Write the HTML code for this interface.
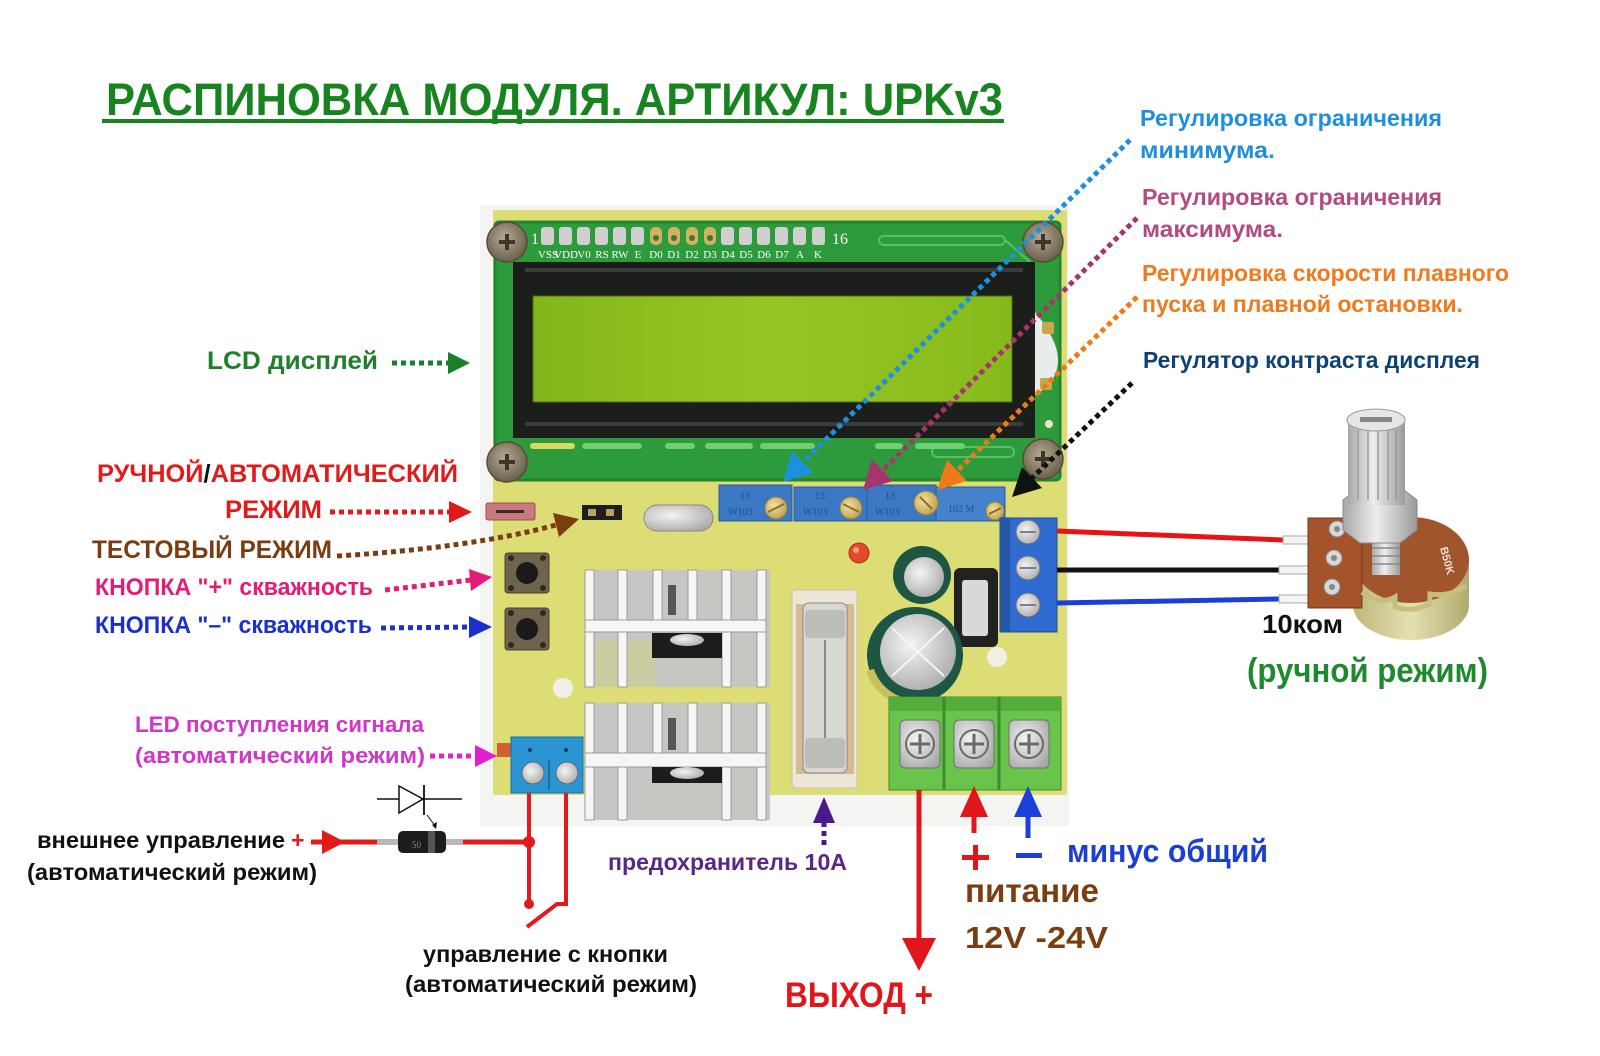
<!DOCTYPE html>
<html><head><meta charset="utf-8">
<style>
html,body{margin:0;padding:0;background:#fff;width:1600px;height:1056px;overflow:hidden}
svg{display:block}
text{font-family:"Liberation Sans","DejaVu Sans",sans-serif;font-weight:bold}
.pl{font-family:"Liberation Serif",serif;font-weight:normal}
</style></head><body>
<svg width="1600" height="1056" viewBox="0 0 1600 1056" xmlns="http://www.w3.org/2000/svg">
<defs>
<radialGradient id="scw" cx=".45" cy=".4" r=".6"><stop offset="0" stop-color="#b5aa92"/><stop offset="1" stop-color="#6a604c"/></radialGradient>
<linearGradient id="scr" x1="0" y1="0" x2="1" y2="0"><stop offset="0" stop-color="#82b61a"/><stop offset=".5" stop-color="#96c626"/><stop offset="1" stop-color="#86ba1c"/></linearGradient>
<radialGradient id="slv" cx=".4" cy=".4" r=".7"><stop offset="0" stop-color="#f4f4f4"/><stop offset="1" stop-color="#a8a8a8"/></radialGradient>
<radialGradient id="brs" cx=".4" cy=".4" r=".7"><stop offset="0" stop-color="#f2e2a0"/><stop offset="1" stop-color="#b89a48"/></radialGradient>
<linearGradient id="shaft" x1="0" y1="0" x2="1" y2="0"><stop offset="0" stop-color="#a8a8a8"/><stop offset=".45" stop-color="#eeeeee"/><stop offset="1" stop-color="#9a9a9a"/></linearGradient>
<linearGradient id="cyl" x1="0" y1="0" x2="1" y2="0"><stop offset="0" stop-color="#bdb77a"/><stop offset=".5" stop-color="#e4e0b0"/><stop offset="1" stop-color="#b0aa70"/></linearGradient>
</defs>
<rect width="1600" height="1056" fill="#fff"/>

<!-- TITLE -->
<text x="106" y="115" font-size="45" fill="#17841f" textLength="897" lengthAdjust="spacingAndGlyphs">РАСПИНОВКА МОДУЛЯ. АРТИКУЛ: UPKv3</text>
<rect x="102" y="119" width="902" height="4" fill="#17841f"/>

<!-- RIGHT TEXTS -->
<g font-size="23">
<text x="1140" y="126" fill="#1f8fdc" textLength="302" lengthAdjust="spacingAndGlyphs">Регулировка ограничения</text>
<text x="1140" y="158" fill="#1f8fdc" textLength="135" lengthAdjust="spacingAndGlyphs">минимума.</text>
<text x="1142" y="205" fill="#b24a84" textLength="300" lengthAdjust="spacingAndGlyphs">Регулировка ограничения</text>
<text x="1142" y="237" fill="#b24a84" textLength="141" lengthAdjust="spacingAndGlyphs">максимума.</text>
<text x="1142" y="281" fill="#ef7a1f" textLength="367" lengthAdjust="spacingAndGlyphs">Регулировка скорости плавного</text>
<text x="1142" y="312" fill="#ef7a1f" textLength="321" lengthAdjust="spacingAndGlyphs">пуска и плавной остановки.</text>
<text x="1143" y="368" fill="#0f4274" textLength="337" lengthAdjust="spacingAndGlyphs">Регулятор контраста дисплея</text>
</g>

<!-- LEFT TEXTS -->
<text x="207" y="369" font-size="25" fill="#1f7f2d" textLength="171" lengthAdjust="spacingAndGlyphs">LCD дисплей</text>
<text x="97" y="482" font-size="25" textLength="361" lengthAdjust="spacingAndGlyphs"><tspan fill="#e01b1b">РУЧНОЙ</tspan><tspan fill="#111">/</tspan><tspan fill="#e01b1b">АВТОМАТИЧЕСКИЙ</tspan></text>
<text x="225" y="518" font-size="25" fill="#e01b1b" textLength="97" lengthAdjust="spacingAndGlyphs">РЕЖИМ</text>
<text x="92" y="558" font-size="25" fill="#7b3c12" textLength="240" lengthAdjust="spacingAndGlyphs">ТЕСТОВЫЙ РЕЖИМ</text>
<text x="95" y="595" font-size="24" fill="#e31c79" textLength="278" lengthAdjust="spacingAndGlyphs">КНОПКА "+" скважность</text>
<text x="95" y="633" font-size="24" fill="#1b2fcb" textLength="277" lengthAdjust="spacingAndGlyphs">КНОПКА "–" скважность</text>
<text x="135" y="732" font-size="22" fill="#d236c9" textLength="289" lengthAdjust="spacingAndGlyphs">LED поступления сигнала</text>
<text x="135" y="763" font-size="22" fill="#d236c9" textLength="290" lengthAdjust="spacingAndGlyphs">(автоматический режим)</text>
<text x="37" y="848" font-size="23" fill="#111" textLength="248" lengthAdjust="spacingAndGlyphs">внешнее управление</text>
<text x="291" y="848" font-size="23" fill="#e01b1b">+</text>
<text x="27" y="880" font-size="23" fill="#111" textLength="290" lengthAdjust="spacingAndGlyphs">(автоматический режим)</text>
<text x="423" y="962" font-size="23" fill="#111" textLength="245" lengthAdjust="spacingAndGlyphs">управление с кнопки</text>
<text x="405" y="992" font-size="23" fill="#111" textLength="292" lengthAdjust="spacingAndGlyphs">(автоматический режим)</text>
<text x="608" y="870" font-size="23" fill="#5a2788" textLength="239" lengthAdjust="spacingAndGlyphs">предохранитель 10А</text>
<text x="785" y="1007" font-size="35" fill="#e0161b" textLength="148" lengthAdjust="spacingAndGlyphs">ВЫХОД +</text>
<text x="1067" y="862" font-size="32" fill="#1b3fd3" textLength="201" lengthAdjust="spacingAndGlyphs">минус общий</text>
<text x="965" y="902" font-size="33" fill="#7a3e10" textLength="134" lengthAdjust="spacingAndGlyphs">питание</text>
<text x="965" y="948" font-size="31" fill="#7a3e10" textLength="143" lengthAdjust="spacingAndGlyphs">12V -24V</text>

<!-- PHOTO BACKGROUND -->
<rect x="480" y="205" width="589" height="621" fill="#f4f4f2"/>
<!-- yellow PCB -->
<rect x="493" y="210" width="574" height="585" fill="#dcdd74"/>
<!-- holes -->
<circle cx="997" cy="657" r="10" fill="#f0f0e6"/>
<circle cx="563" cy="688" r="10" fill="#f0f0e6"/>

<!-- LCD PCB -->
<rect x="495" y="222" width="565" height="258" rx="4" fill="#2d9b3b"/>
<rect x="495" y="222" width="565" height="258" rx="4" fill="none" stroke="#238430" stroke-width="3"/>
<rect x="879" y="236" width="126" height="9" rx="4.5" fill="none" stroke="#52c262" stroke-width="2"/>
<path d="M1005,240 L1030,262" stroke="#52c262" stroke-width="2"/>
<rect x="932" y="447" width="82" height="10" rx="5" fill="none" stroke="#52c262" stroke-width="2"/>
<g fill="#6fcf72">
<rect x="530" y="443" width="45" height="6" rx="3" fill="#d8d860"/>
<rect x="582" y="443" width="60" height="6" rx="3"/>
<rect x="665" y="443" width="30" height="6" rx="3"/>
<rect x="705" y="443" width="48" height="6" rx="3"/>
<rect x="760" y="443" width="55" height="6" rx="3"/>
<rect x="875" y="443" width="28" height="6" rx="3"/>
<rect x="915" y="443" width="50" height="6" rx="3"/>
</g>
<!-- right side cutout pads -->
<path d="M1035,312 Q1058,340 1058,360 Q1058,382 1035,395 Z" fill="#e8ecea"/>
<rect x="1042" y="322" width="12" height="12" rx="2" fill="#c8a848"/>
<rect x="1040" y="378" width="12" height="12" rx="2" fill="#c8a848"/>
<circle cx="1049" cy="424" r="4" fill="#e8e8c8"/>

<!-- bezel & screen -->
<rect x="513" y="262" width="522" height="176" fill="#1b1e1b"/>
<rect x="525" y="268" width="498" height="4" fill="#3a3d3a"/>
<rect x="525" y="422" width="498" height="4" fill="#3a3d3a"/>
<rect x="533" y="296" width="479" height="106" fill="url(#scr)" stroke="#4a6a12" stroke-width="1"/>

<!-- pin header -->
<g>
<rect x="541" y="227" width="13" height="18" rx="3" fill="#cfcfcf"/>
<rect x="559" y="227" width="13" height="18" rx="3" fill="#cfcfcf"/>
<rect x="577" y="227" width="13" height="18" rx="3" fill="#cfcfcf"/>
<rect x="595" y="227" width="13" height="18" rx="3" fill="#cfcfcf"/>
<rect x="613" y="227" width="13" height="18" rx="3" fill="#cfcfcf"/>
<rect x="631" y="227" width="13" height="18" rx="3" fill="#cfcfcf"/>
<rect x="650" y="227" width="12" height="18" rx="5" fill="#d4b060"/>
<rect x="668" y="227" width="12" height="18" rx="5" fill="#d4b060"/>
<rect x="686" y="227" width="12" height="18" rx="5" fill="#d4b060"/>
<rect x="704" y="227" width="12" height="18" rx="5" fill="#d4b060"/>
<rect x="721" y="227" width="13" height="18" rx="3" fill="#cfcfcf"/>
<rect x="739" y="227" width="13" height="18" rx="3" fill="#cfcfcf"/>
<rect x="757" y="227" width="13" height="18" rx="3" fill="#cfcfcf"/>
<rect x="775" y="227" width="13" height="18" rx="3" fill="#cfcfcf"/>
<rect x="793" y="227" width="13" height="18" rx="3" fill="#cfcfcf"/>
<rect x="812" y="227" width="13" height="18" rx="3" fill="#cfcfcf"/>
<g fill="#3a7a30"><circle cx="656" cy="238" r="3"/><circle cx="674" cy="238" r="3"/><circle cx="692" cy="238" r="3"/><circle cx="710" cy="238" r="3"/></g>
</g>
<g class="pl" fill="#fff" font-size="11" text-anchor="middle">
<text class="pl" x="535" y="244" font-size="16">1</text>
<text class="pl" x="832" y="244" font-size="16" text-anchor="start">16</text>
<text class="pl" x="548" y="258">VSS</text><text class="pl" x="566" y="258">VDD</text><text class="pl" x="584" y="258">V0</text>
<text class="pl" x="602" y="258">RS</text><text class="pl" x="620" y="258">RW</text><text class="pl" x="638" y="258">E</text>
<text class="pl" x="656" y="258">D0</text><text class="pl" x="674" y="258">D1</text><text class="pl" x="692" y="258">D2</text>
<text class="pl" x="710" y="258">D3</text><text class="pl" x="728" y="258">D4</text><text class="pl" x="746" y="258">D5</text>
<text class="pl" x="764" y="258">D6</text><text class="pl" x="782" y="258">D7</text><text class="pl" x="800" y="258">A</text>
<text class="pl" x="818" y="258">K</text>
</g>

<!-- screws -->
<g>
<circle cx="507" cy="242" r="20" fill="url(#scw)" stroke="#564c3a" stroke-width="1.5"/>
<path d="M499,242 H515 M507,234 V250" stroke="#3e3628" stroke-width="4"/>
<circle cx="1043" cy="242" r="20" fill="url(#scw)" stroke="#564c3a" stroke-width="1.5"/>
<path d="M1035,242 H1051 M1043,234 V250" stroke="#3e3628" stroke-width="4"/>
<circle cx="507" cy="462" r="20" fill="url(#scw)" stroke="#564c3a" stroke-width="1.5"/>
<path d="M499,462 H515 M507,454 V470" stroke="#3e3628" stroke-width="4"/>
<circle cx="1043" cy="459" r="20" fill="url(#scw)" stroke="#564c3a" stroke-width="1.5"/>
<path d="M1035,459 H1051 M1043,451 V467" stroke="#3e3628" stroke-width="4"/>
</g>

<!-- trimmers -->
<g>
<rect x="719" y="485" width="73" height="36" fill="#3a78c6" stroke="#285a9c"/>
<rect x="794" y="487" width="73" height="34" fill="#3a78c6" stroke="#285a9c"/>
<rect x="867" y="485" width="69" height="36" fill="#3a78c6" stroke="#285a9c"/>
<rect x="936" y="487" width="69" height="34" fill="#4482cc" stroke="#285a9c"/>
<g fill="#1f4f90" font-size="10" class="pl"><text class="pl" x="740" y="499">13</text><text class="pl" x="815" y="499">13</text><text class="pl" x="885" y="499">13</text><text class="pl" x="728" y="515">W103</text><text class="pl" x="803" y="515">W103</text><text class="pl" x="875" y="515">W103</text><text class="pl" x="948" y="512">103 M</text></g>
<circle cx="776" cy="508" r="11" fill="url(#brs)" stroke="#9a7e38"/>
<circle cx="851" cy="508" r="11" fill="url(#brs)" stroke="#9a7e38"/>
<circle cx="926" cy="503" r="12" fill="url(#brs)" stroke="#9a7e38"/>
<circle cx="995" cy="511" r="9" fill="url(#brs)" stroke="#9a7e38"/>
<path d="M768,512 L784,504 M843,504 L859,512 M920,497 L932,509 M989,514 L1001,508" stroke="#8a6e30" stroke-width="2"/>
</g>

<!-- jumpers, crystal -->
<rect x="486" y="503" width="49" height="17" rx="2" fill="#c87a7c" stroke="#9a5050"/>
<rect x="496" y="510" width="28" height="3" fill="#3a2a2a"/>
<rect x="582" y="505" width="40" height="15" fill="#1e1e1e"/>
<rect x="588" y="509" width="8" height="7" fill="#bba060"/><rect x="606" y="509" width="8" height="7" fill="#bba060"/>
<rect x="644" y="505" width="69" height="26" rx="13" fill="url(#slv)" stroke="#8a8a8a"/>

<!-- buttons -->
<g>
<rect x="505" y="553" width="44" height="40" rx="3" fill="#6e634c" stroke="#4a4232"/>
<circle cx="527" cy="573" r="11" fill="#1a1a1a"/>
<g fill="#2a2a2a"><circle cx="511" cy="558" r="3"/><circle cx="543" cy="558" r="3"/><circle cx="511" cy="588" r="3"/><circle cx="543" cy="588" r="3"/></g>
<rect x="505" y="608" width="44" height="42" rx="3" fill="#6e634c" stroke="#4a4232"/>
<circle cx="527" cy="629" r="11" fill="#1a1a1a"/>
<g fill="#2a2a2a"><circle cx="511" cy="613" r="3"/><circle cx="543" cy="613" r="3"/><circle cx="511" cy="645" r="3"/><circle cx="543" cy="645" r="3"/></g>
</g>

<!-- LED -->
<circle cx="859" cy="553" r="10" fill="#e04a2a" stroke="#a83018"/>
<circle cx="856" cy="550" r="3" fill="#f8a080"/>

<!-- small cap -->
<circle cx="922" cy="575" r="29" fill="#1d5744"/>
<circle cx="924" cy="577" r="20" fill="url(#slv)"/>
<!-- regulator -->
<rect x="954" y="568" width="44" height="79" rx="6" fill="#222"/>
<rect x="962" y="580" width="26" height="56" rx="3" fill="#d8d8d8"/>
<!-- big cap -->
<circle cx="915" cy="655" r="48" fill="#1d5744"/>
<path d="M870,670 A48,48 0 0 0 905,702" stroke="#c8c060" stroke-width="8" fill="none"/>
<circle cx="918" cy="652" r="38" fill="url(#slv)"/>
<path d="M892,628 L944,676 M944,628 L892,676" stroke="#f6f6f6" stroke-width="2"/>

<!-- blue 3-terminal -->
<rect x="1000" y="518" width="57" height="114" fill="#2f6bd0" stroke="#1e4a9a"/>
<rect x="1000" y="518" width="10" height="114" fill="#2656a8"/>
<g fill="url(#slv)" stroke="#6a7080"><circle cx="1028" cy="532" r="12"/><circle cx="1028" cy="568" r="12"/><circle cx="1028" cy="605" r="12"/></g>
<path d="M1020,532 H1036 M1020,568 H1036 M1020,605 H1036" stroke="#7a8090" stroke-width="2"/>

<!-- heatsinks -->
<g>
<rect x="585" y="570" width="185" height="117" fill="#c6c6c2"/>
<rect x="595" y="640" width="60" height="47" fill="#cfd08a" opacity=".6"/>
<g fill="#f6f6f6" stroke="#9a9a9a" stroke-width="1">
<rect x="585" y="570" width="9" height="117"/>
<rect x="618" y="570" width="9" height="117"/>
<rect x="653" y="570" width="9" height="52"/>
<rect x="688" y="570" width="9" height="52"/>
<rect x="722" y="570" width="9" height="117"/>
<rect x="757" y="570" width="9" height="117"/>
<rect x="585" y="620" width="181" height="12"/>
</g>
<rect x="668" y="585" width="8" height="30" fill="#555"/>
<rect x="652" y="633" width="70" height="25" fill="#1c1c1c"/>
<ellipse cx="687" cy="640" rx="17" ry="6" fill="url(#slv)"/>

<rect x="585" y="703" width="185" height="117" fill="#c6c6c2"/>
<g fill="#f6f6f6" stroke="#9a9a9a" stroke-width="1">
<rect x="585" y="703" width="9" height="117"/>
<rect x="618" y="703" width="9" height="117"/>
<rect x="653" y="703" width="9" height="52"/>
<rect x="688" y="703" width="9" height="52"/>
<rect x="722" y="703" width="9" height="117"/>
<rect x="757" y="703" width="9" height="117"/>
<rect x="585" y="753" width="181" height="14"/>
</g>
<rect x="668" y="718" width="8" height="32" fill="#555"/>
<rect x="652" y="767" width="70" height="16" fill="#1c1c1c"/>
<ellipse cx="687" cy="773" rx="17" ry="6" fill="url(#slv)"/>
</g>

<!-- fuse holder -->
<rect x="792" y="590" width="65" height="198" rx="3" fill="#ebe6d8" stroke="#c8c0a8"/>
<rect x="796" y="604" width="58" height="170" fill="#cfb080" opacity=".8"/>
<rect x="803" y="603" width="44" height="170" rx="6" fill="#d8d8d2" stroke="#8a8a86"/>
<rect x="805" y="610" width="40" height="28" rx="4" fill="#bcbcb8"/>
<rect x="805" y="738" width="40" height="30" rx="4" fill="#bcbcb8"/>
<path d="M825,640 V738" stroke="#8a8a86" stroke-width="2"/>

<!-- green terminals -->
<g>
<rect x="889" y="697" width="172" height="93" fill="#69c44b" stroke="#3e8a2c"/>
<rect x="889" y="697" width="172" height="14" fill="#56ac3a"/>
<path d="M944,697 V790 M999,697 V790" stroke="#3e8a2c" stroke-width="3"/>
<rect x="900" y="720" width="40" height="48" rx="5" fill="url(#slv)" stroke="#707070"/>
<rect x="954" y="720" width="40" height="48" rx="5" fill="url(#slv)" stroke="#707070"/>
<rect x="1009" y="720" width="40" height="48" rx="5" fill="url(#slv)" stroke="#707070"/>
<g fill="none" stroke="#6a6a6a" stroke-width="2"><circle cx="920" cy="744" r="14"/><circle cx="974" cy="744" r="14"/><circle cx="1029" cy="744" r="14"/></g>
<path d="M910,744 H930 M920,734 V754 M964,744 H984 M974,734 V754 M1019,744 H1039 M1029,734 V754" stroke="#6a6a6a" stroke-width="3"/>
</g>

<!-- bottom-left blue terminal -->
<rect x="497" y="743" width="14" height="14" fill="#d06030"/>
<rect x="511" y="737" width="72" height="56" fill="#2b95d3" stroke="#1b6ea0"/>
<circle cx="530" cy="750" r="2" fill="#0a3a5a"/><circle cx="566" cy="750" r="2" fill="#0a3a5a"/>
<path d="M549,760 V790" stroke="#1b6ea0" stroke-width="2"/>
<circle cx="533" cy="773" r="11" fill="url(#slv)" stroke="#5a6a7a"/>
<circle cx="567" cy="773" r="11" fill="url(#slv)" stroke="#5a6a7a"/>

<!-- potentiometer wires -->
<path d="M1057,531 L1283,540" stroke="#e81414" stroke-width="5"/>
<path d="M1057,570 L1279,570" stroke="#111" stroke-width="5"/>
<path d="M1057,603 L1279,599" stroke="#1b3fd8" stroke-width="5"/>
<g fill="#f4f4f4" stroke="#aaa" stroke-width="1">
<rect x="1283" y="536" width="27" height="8"/>
<rect x="1279" y="566" width="31" height="8"/>
<rect x="1279" y="595" width="31" height="8"/>
</g>

<!-- potentiometer -->
<g>
<ellipse cx="1411" cy="605" rx="58" ry="35" fill="url(#cyl)"/>
<rect x="1353" y="560" width="116" height="45" fill="url(#cyl)"/>
<ellipse cx="1411" cy="560" rx="58" ry="43" fill="#a1552c"/>
<path d="M1308,518 H1362 L1362,608 H1308 Z" fill="#a4532b" stroke="#7a3a1a"/>
<g fill="#d8d8d8" stroke="#888"><circle cx="1337" cy="529" r="8"/><circle cx="1334" cy="558" r="8"/><circle cx="1332" cy="587" r="8"/></g>
<g fill="#888"><circle cx="1337" cy="529" r="3"/><circle cx="1334" cy="558" r="3"/><circle cx="1332" cy="587" r="3"/></g>
<path d="M1362,592 Q1380,606 1395,597 L1395,607 Q1411,613 1430,604 L1430,594 Q1450,597 1466,586" stroke="#c8c07a" stroke-width="5" fill="none"/>
<rect x="1372" y="520" width="28" height="55" fill="url(#shaft)"/>
<g stroke="#888" stroke-width="1.5"><path d="M1372,548 H1400 M1372,556 H1400 M1372,564 H1400"/></g>
<polygon points="1343,500 1360,487 1400,487 1417,500 1417,530 1400,543 1360,543 1343,530" fill="url(#shaft)" stroke="#888"/>
<rect x="1348" y="420" width="57" height="85" fill="url(#shaft)"/>
<g stroke="#9a9a9a" stroke-width="1.5"><path d="M1358,430 V500 M1368,430 V500 M1378,430 V500 M1388,430 V500 M1396,430 V500"/></g>
<ellipse cx="1376" cy="420" rx="29" ry="11" fill="#e6e6e6" stroke="#999"/>
<rect x="1360" y="417" width="32" height="5" fill="#888"/>
<text x="1440" y="548" font-size="11" fill="#f0e0d0" transform="rotate(75 1440 548)">B50K</text>
</g>
<text x="1262" y="633" font-size="26" fill="#111" textLength="81" lengthAdjust="spacingAndGlyphs">10ком</text>
<text x="1247" y="682" font-size="34" fill="#1e8a2e" textLength="241" lengthAdjust="spacingAndGlyphs">(ручной режим)</text>

<!-- RED CONTROL WIRES -->
<g stroke="#e01b1b" fill="none">
<path d="M529,793 V904" stroke-width="4"/>
<path d="M566,793 V904 H557 L527,927" stroke-width="4"/>
<path d="M311,842 H377" stroke-width="5"/>
<path d="M462,842 H529" stroke-width="5"/>
</g>
<circle cx="529" cy="842" r="6" fill="#e01b1b"/>
<circle cx="529" cy="904" r="5" fill="#e01b1b"/>
<polygon points="322,830 345,842 322,854" fill="#e01b1b"/>
<!-- diode -->
<rect x="377" y="839" width="86" height="6" fill="#b8b8b8"/>
<rect x="398" y="831" width="48" height="22" rx="5" fill="#1c1c1c"/>
<rect x="428" y="831" width="7" height="22" fill="#555"/>
<text x="412" y="848" font-size="9" fill="#888" class="pl">50</text>
<!-- diode symbol -->
<path d="M377,799 H462" stroke="#111" stroke-width="1.5"/>
<polygon points="399,786 399,813 423,799" fill="#fff" stroke="#111" stroke-width="1.5"/>
<path d="M424,785 V815" stroke="#111" stroke-width="1.8"/>
<path d="M427,815 L436,827" stroke="#111" stroke-width="1"/>
<polygon points="436,829 437,822 432,825" fill="#111"/>

<!-- OUTPUT / POWER ARROWS -->
<path d="M919,790 V940" stroke="#e0161b" stroke-width="5"/>
<polygon points="902,938 936,938 919,971" fill="#e0161b"/>
<path d="M974,815 V833" stroke="#e0161b" stroke-width="5"/>
<polygon points="960,817 988,817 974,786" fill="#e0161b"/>
<path d="M1028,815 V838" stroke="#1b3fd8" stroke-width="5"/>
<polygon points="1014,817 1042,817 1028,786" fill="#1b3fd8"/>
<rect x="962" y="855" width="27" height="5" fill="#e0161b"/>
<rect x="973" y="845" width="5" height="25" fill="#e0161b"/>
<rect x="1016" y="853" width="26" height="5" fill="#1b3fd8"/>
<!-- fuse arrow -->
<path d="M824,822 V848" stroke="#4b1a8a" stroke-width="5" stroke-dasharray="5 4"/>
<polygon points="813,823 835,823 824,797" fill="#4b1a8a"/>

<!-- LEFT DOTTED ARROWS -->
<g stroke-width="5" stroke-dasharray="5 4" fill="none">
<path d="M392,363 H449" stroke="#1a7f2a"/>
<path d="M330,512 H450" stroke="#e01b1b"/>
<path d="M337,556 Q470,548 556,525" stroke="#7b3c12"/>
<path d="M385,590 L471,580" stroke="#e31c79"/>
<path d="M381,628 L470,627" stroke="#1b2fcb"/>
<path d="M430,756 H476" stroke="#e020d0"/>
</g>
<polygon points="448,352 448,374 470,363" fill="#1a7f2a"/>
<polygon points="449,501 449,523 472,512" fill="#e01b1b"/>
<polygon points="559,537 553,513 579,519" fill="#7b3c12"/>
<polygon points="471,591 469,569 492,577" fill="#e31c79"/>
<polygon points="469,616 469,638 492,627" fill="#1b2fcb"/>
<polygon points="475,745 475,767 497,756" fill="#e020d0"/>

<!-- DIAGONAL DOTTED ARROWS -->
<g stroke-width="5" stroke-dasharray="5 4" fill="none">
<path d="M1130,140 L803,462" stroke="#1e90e0"/>
<path d="M1137,218 L883,470" stroke="#a8346e"/>
<path d="M1137,297 L957,471" stroke="#f07a18"/>
<path d="M1132,383 L1032,478" stroke="#111"/>
</g>
<polygon points="813,473 792,451 783,482" fill="#1e90e0"/>
<polygon points="893,481 872,459 863,490" fill="#a8346e"/>
<polygon points="967,481 947,460 937,490" fill="#f07a18"/>
<polygon points="1042,488 1022,467 1012,497" fill="#111"/>
</svg>
</body></html>
